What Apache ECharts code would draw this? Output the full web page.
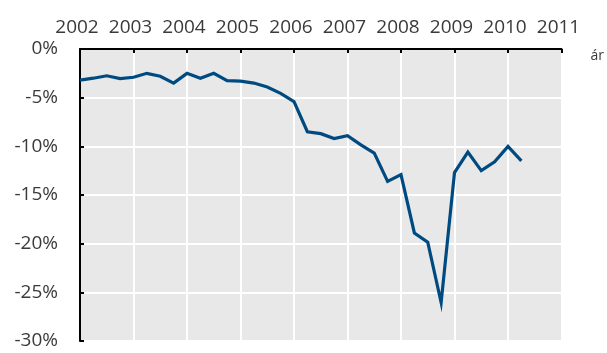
<!DOCTYPE html>
<html>
<head>
<meta charset="utf-8">
<script src="https://cdn.jsdelivr.net/npm/echarts@6/dist/echarts.min.js"></script>
<style>
  html, body { margin: 0; padding: 0; background: #fff; }
  #chart { width: 607px; height: 353px; }
</style>
</head>
<body>
<div id="chart"></div>
<script>
// Quarterly balance, % — first value is 2002 Q1, last is 2010 Q2
const startYear = 2002;
const quarterlyValues = [
  -3.2, -3.0, -2.75, -3.05,
  -2.9, -2.5, -2.8, -3.5,
  -2.5, -3.0, -2.5, -3.25,
  -3.3, -3.5, -3.9, -4.55,
  -5.4, -8.5, -8.7, -9.2,
  -8.9, -9.85, -10.7, -13.6,
  -12.9, -18.9, -19.85, -26.05,
  -12.7, -10.6, -12.5, -11.6,
  -10.0, -11.5
];
const yearTicks = [2002, 2011];
const valueTicks = [-30, 0, 5];
const axisName = 'ár';

const points = quarterlyValues.map((v, i) => [startYear + i / 4, v]);

const textColor = '#3a3a3a';
const fontFamily = '"Open Sans", "Noto Sans", sans-serif';

const chart = echarts.init(document.getElementById('chart'), null, { renderer: 'canvas' });
chart.setOption({
  animation: false,
  grid: {
    left: 80, right: 45, top: 49, bottom: 12,
    show: true, backgroundColor: '#e8e8e8', borderWidth: 0
  },
  xAxis: {
    type: 'value',
    position: 'top',
    min: yearTicks[0], max: yearTicks[1], interval: 1,
    name: axisName,
    nameLocation: 'end',
    nameGap: 29,
    nameTextStyle: { color: textColor, fontSize: 14, fontFamily: fontFamily, verticalAlign: 'top', lineHeight: 14 },
    axisLine: { show: true, lineStyle: { color: '#000', width: 2 } },
    axisTick: { show: true, inside: true, length: 4, lineStyle: { color: '#000', width: 2 } },
    axisLabel: {
      color: textColor, fontSize: 19, fontFamily: fontFamily, margin: 12,
      padding: [0, 6, 0, 0], formatter: v => String(v)
    },
    splitLine: { show: true, lineStyle: { color: '#ffffff', width: 2 } }
  },
  yAxis: {
    type: 'value',
    min: valueTicks[0], max: valueTicks[1], interval: valueTicks[2],
    axisLine: { show: true, lineStyle: { color: '#000', width: 2 } },
    axisTick: { show: true, inside: true, length: 4, lineStyle: { color: '#000', width: 2 } },
    axisLabel: { color: textColor, fontSize: 19, fontFamily: fontFamily, margin: 22, formatter: '{value}%' },
    splitLine: { show: true, lineStyle: { color: '#ffffff', width: 2 } }
  },
  series: [{
    type: 'line',
    data: points,
    symbol: 'none',
    lineStyle: { color: '#004a82', width: 3.2, join: 'miter' },
    z: 3
  }]
});
</script>
</body>
</html>
